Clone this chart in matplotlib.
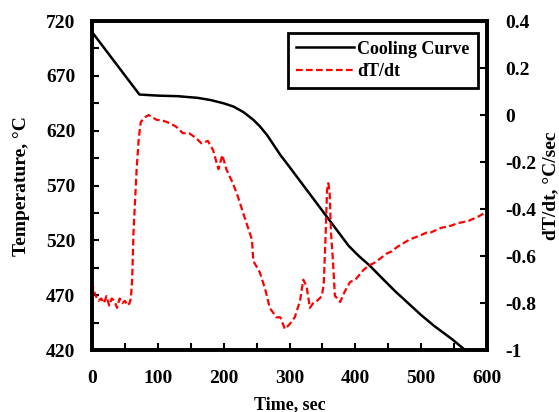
import numpy as np
import matplotlib
matplotlib.use("Agg")
import matplotlib.pyplot as plt
from matplotlib.ticker import MultipleLocator, FixedLocator, FuncFormatter

plt.rcParams.update({"font.family": ["Liberation Serif", "DejaVu Serif"], "font.weight": "bold",
                     "axes.labelweight": "bold", "axes.unicode_minus": False})

# cooling curve (time s, temperature C)
t_cool = [0, 72, 100, 130, 160, 180, 200, 215, 230, 245, 255, 266, 276, 286, 300, 315, 330, 345,
          360, 375, 390, 405, 422, 440, 460, 480, 500, 520, 547, 567, 600]
T_cool = [710, 653, 652, 651.5, 650, 648, 645, 642, 637, 630, 624, 616, 607, 598, 587, 575, 563, 551,
          539, 527, 515, 506, 497, 486, 474, 463, 452, 442, 430, 420, 405]

# derivative (time s, dT/dt C/s)
t_rate = [0, 3, 6, 10, 14, 18, 22, 26, 30, 34, 38, 42, 46, 50, 54, 57, 59, 61, 63, 66, 68, 71, 74,
          80, 86, 92, 98, 108, 118, 128, 138, 148, 159, 166, 176, 184, 192, 198, 204, 214, 222,
          230, 243, 245, 255, 263, 270, 280, 286, 293, 300, 308, 316, 321, 326, 331, 336, 342,
          349, 352, 355, 357, 359, 361, 363, 366, 369, 373, 377, 384, 392, 400, 406, 412, 420,
          428, 438, 447, 455, 464, 473, 482, 491, 500, 508, 514, 522, 530, 538, 546, 555, 564,
          572, 580, 588, 594, 600]
r_rate = [-0.71, -0.75, -0.77, -0.79, -0.78, -0.80, -0.77, -0.81, -0.78, -0.79, -0.82, -0.78, -0.80,
          -0.79, -0.81, -0.80, -0.78, -0.70, -0.50, -0.33, -0.22, -0.10, -0.03, -0.01, 0.00, -0.01,
          -0.02, -0.024, -0.034, -0.05, -0.077, -0.078, -0.10, -0.12, -0.11, -0.15, -0.23, -0.17,
          -0.23, -0.29, -0.35, -0.42, -0.53, -0.62, -0.67, -0.74, -0.82, -0.86, -0.86, -0.91, -0.89,
          -0.86, -0.79, -0.70, -0.73, -0.82, -0.80, -0.79, -0.77, -0.72, -0.50, -0.32, -0.29, -0.33,
          -0.50, -0.62, -0.77, -0.78, -0.795, -0.75, -0.71, -0.70, -0.68, -0.66, -0.64, -0.63, -0.61,
          -0.59, -0.58, -0.56, -0.545, -0.53, -0.52, -0.51, -0.50, -0.50, -0.49, -0.48, -0.475,
          -0.47, -0.46, -0.455, -0.45, -0.44, -0.43, -0.42, -0.41]

fig = plt.figure(figsize=(5.59, 4.12), dpi=100)
ax = fig.add_axes([0.1646, 0.150, 0.7066, 0.799])
ax2 = ax.twinx()

l1, = ax.plot(t_cool, T_cool, color="black", lw=1.8, label="Cooling Curve")
l2, = ax2.plot(t_rate, r_rate, color="red", lw=1.6, ls=(0, (3, 1.5)), label="dT/dt")

ax.set_xlim(0, 600); ax.set_ylim(420, 720)
ax2.set_ylim(-1, 0.4)
ax.xaxis.set_major_locator(MultipleLocator(100)); ax.xaxis.set_minor_locator(MultipleLocator(50))
ax.yaxis.set_major_locator(FixedLocator(np.arange(420, 721, 50)))
ax.yaxis.set_minor_locator(FixedLocator(np.arange(445, 720, 50)))
ax2.yaxis.set_major_locator(FixedLocator(np.round(np.arange(-1, 0.41, 0.2), 1)))
ax2.yaxis.set_major_formatter(FuncFormatter(lambda v, p: f"{round(v, 1) + 0.0:g}"))
ax.tick_params(which="both", direction="in", width=1.5, length=5, labelsize=14)
ax.tick_params(axis="y", pad=12)
ax.tick_params(axis="x", which="both", top=False, pad=14)
ax2.tick_params(direction="in", width=1.5, length=5, pad=13, labelsize=14)
for a in (ax, ax2):
    for s in a.spines.values():
        s.set_linewidth(2.6)

ax.set_xlabel("Time, sec", fontsize=13)
ax.xaxis.set_label_coords(0.5, -0.14)
ax.set_ylabel("Temperature, °C", fontsize=14)
ax.yaxis.set_label_coords(-0.158, 0.5)
ax2.set_ylabel("dT/dt, °C/sec", fontsize=14)
ax2.yaxis.set_label_coords(1.14, 0.5)

leg = ax.legend(handles=[l1, l2], loc="upper right", bbox_to_anchor=(0.977, 0.965), borderaxespad=0,
                fontsize=13, fancybox=False, edgecolor="black", framealpha=1, handlelength=3.2,
                handletextpad=0.2, borderpad=0.45, labelspacing=0.3)
leg.get_frame().set_linewidth(2)

fig.savefig("out.png", dpi=100)
